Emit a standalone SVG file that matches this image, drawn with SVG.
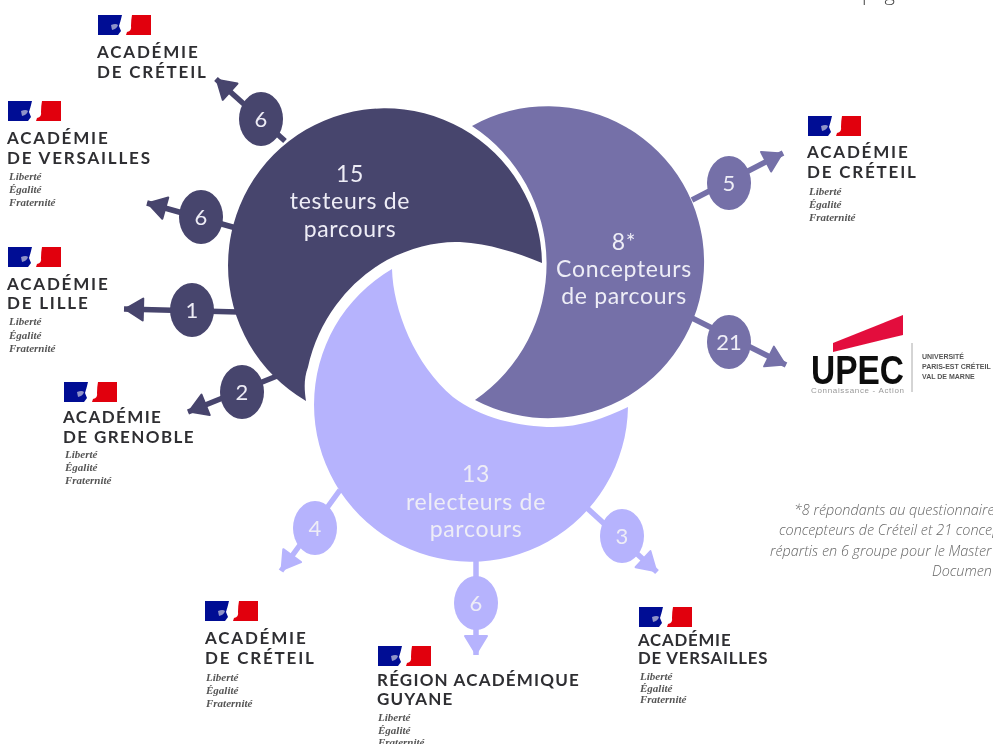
<svg xmlns="http://www.w3.org/2000/svg" xmlns:xlink="http://www.w3.org/1999/xlink" width="993" height="744" viewBox="0 0 993 744">
<style>
.bg{fill:#fff}
.d{fill:#47446d}.p{fill:#7470a8}.l{fill:#b6b3fd}
.ds{stroke:#47446d}.ps{stroke:#7470a8}.ls{stroke:#b6b3fd}
.c line{stroke-width:5.500;fill:none}
text{font-family:"Lato","Noto Sans",sans-serif}
.big{font-size:23px;fill:#eeedf6;text-anchor:middle;letter-spacing:.7px}
.num{font-size:22px;fill:#eeedf6;text-anchor:middle}
.ac{font-size:17px;font-weight:700;fill:#2f2f33;letter-spacing:1.800px}
.ac2{letter-spacing:1.400px}
.ac3{letter-spacing:1.200px}
.ac4{letter-spacing:.800px;font-size:16.800px}
.dev{font-family:"Liberation Serif",serif;font-style:italic;font-weight:700;font-size:11px;fill:#555}
.note{font-family:"Open Sans",sans-serif;font-style:italic;font-weight:300;font-size:14.400px;fill:#666}
.up{font-family:"Liberation Sans",sans-serif}
.up2{font-size:7px;font-weight:700;fill:#555}
</style>
<defs>
<filter id="soft" x="0" y="0" width="100%" height="100%"><feGaussianBlur stdDeviation="0.5"/></filter>
<marker id="ad" markerUnits="userSpaceOnUse" markerWidth="28" markerHeight="28" refX="21" refY="14" orient="auto"><path d="M2 3L20 14L2 25Z" fill="#47446d" stroke="#47446d" stroke-width="2" stroke-linejoin="round"/></marker>
<marker id="ap" markerUnits="userSpaceOnUse" markerWidth="28" markerHeight="28" refX="21" refY="14" orient="auto"><path d="M2 3L20 14L2 25Z" fill="#7470a8" stroke="#7470a8" stroke-width="2" stroke-linejoin="round"/></marker>
<marker id="al" markerUnits="userSpaceOnUse" markerWidth="28" markerHeight="28" refX="21" refY="14" orient="auto"><path d="M2 3L20 14L2 25Z" fill="#b6b3fd" stroke="#b6b3fd" stroke-width="2" stroke-linejoin="round"/></marker>
<g id="flag">
<path d="M0 0H24L22.500 6L21 11L23 16L20 20H0Z" fill="#000e94"/>
<path d="M13 10q5 -2 7 0q-1 4 -6 5z" fill="#8f93c8"/>
<path d="M34 0H53V20H28L29 17Q34 16 33 11Q33 5 34 0Z" fill="#e1000f"/>
</g>
</defs>
<rect class="bg" width="993" height="744"/>
<g filter="url(#soft)">
<text x="862" y="0" style="font-family:'Open Sans',sans-serif;font-size:20px;font-weight:300;fill:#444">page</text>

<g id="connectors" class="c">
<line class="ds" x1="285" y1="141" x2="216" y2="79" marker-end="url(#ad)"/>
<line class="ds" x1="236" y1="228" x2="147" y2="203" marker-end="url(#ad)"/>
<line class="ds" x1="238" y1="312" x2="124" y2="309" marker-end="url(#ad)"/>
<line class="ds" x1="277" y1="376" x2="188" y2="412" marker-end="url(#ad)"/>
<line class="ps" x1="692" y1="200" x2="783" y2="153" marker-end="url(#ap)"/>
<line class="ps" x1="692" y1="318" x2="786" y2="365" marker-end="url(#ap)"/>
<line class="ls" x1="340" y1="490" x2="281" y2="571" marker-end="url(#al)"/>
<line class="ls" x1="587" y1="508" x2="657" y2="572" marker-end="url(#al)"/>
<line class="ls" x1="476" y1="555" x2="476" y2="655" marker-end="url(#al)"/>
</g>

<g id="testeurs">
<path class="d" d="M542 263A157 157 0 1 0 306 401C304 388 304 378 308 367A163 163 0 0 1 387 260C412 247 438 241 460 242C490 244 515 252 542 263Z"/>
<text class="big" x="350" y="182">15</text>
<text class="big" x="350" y="209">testeurs de</text>
<text class="big" x="350" y="237">parcours</text>
</g>
<g id="concepteurs">
<path class="p" d="M472 126A156 156 0 1 1 475 400A165 165 0 0 0 472 126Z"/>
<text class="big" x="624" y="250">8*</text>
<text class="big" x="624" y="277">Concepteurs</text>
<text class="big" x="624" y="304">de parcours</text>
</g>
<g id="relecteurs">
<path class="l" d="M628 407A157 157 0 1 1 392 269C393 310 415 365 453 397C480 418 520 427 553 427C580 427 605 418 628 407Z"/>
<text class="big" x="476" y="482">13</text>
<text class="big" x="476" y="510">relecteurs de</text>
<text class="big" x="476" y="537">parcours</text>
</g>

<g id="n6a"><ellipse class="d" cx="261" cy="119" rx="22" ry="27"/><text class="num" x="261" y="127">6</text></g>
<g id="n6b"><ellipse class="d" cx="201" cy="217" rx="22" ry="27"/><text class="num" x="201" y="225">6</text></g>
<g id="n1"><ellipse class="d" cx="192" cy="310" rx="22" ry="27"/><text class="num" x="192" y="318">1</text></g>
<g id="n2"><ellipse class="d" cx="242" cy="392" rx="22" ry="27"/><text class="num" x="242" y="400">2</text></g>
<g id="n5"><ellipse class="p" cx="729" cy="183" rx="22" ry="27"/><text class="num" x="729" y="191">5</text></g>
<g id="n21"><ellipse class="p" cx="729" cy="342" rx="22" ry="27"/><text class="num" x="729" y="350">21</text></g>
<g id="n4"><ellipse class="l" cx="315" cy="528" rx="22" ry="27"/><text class="num" x="315" y="536">4</text></g>
<g id="n3"><ellipse class="l" cx="622" cy="536" rx="22" ry="27"/><text class="num" x="622" y="544">3</text></g>
<g id="n6c"><ellipse class="l" cx="476" cy="603" rx="22" ry="27"/><text class="num" x="476" y="611">6</text></g>

<g id="logo-creteil-1"><use xlink:href="#flag" href="#flag" x="98" y="15"/><text class="ac" x="97" y="58">ACADÉMIE</text><text class="ac" x="97" y="78">DE CRÉTEIL</text></g>
<g id="logo-versailles-1"><use xlink:href="#flag" href="#flag" x="8" y="101"/><text class="ac" x="7" y="144">ACADÉMIE</text><text class="ac" x="7" y="164">DE VERSAILLES</text><text class="dev" x="9" y="180">Liberté</text><text class="dev" x="9" y="193">Égalité</text><text class="dev" x="9" y="206">Fraternité</text></g>
<g id="logo-lille"><use xlink:href="#flag" href="#flag" x="8" y="247"/><text class="ac" x="7" y="290">ACADÉMIE</text><text class="ac" x="7" y="309">DE LILLE</text><text class="dev" x="9" y="325">Liberté</text><text class="dev" x="9" y="339">Égalité</text><text class="dev" x="9" y="352">Fraternité</text></g>
<g id="logo-grenoble"><use xlink:href="#flag" href="#flag" x="64" y="382"/><text class="ac ac2" x="63" y="423">ACADÉMIE</text><text class="ac ac2" x="63" y="443">DE GRENOBLE</text><text class="dev" x="65" y="458">Liberté</text><text class="dev" x="65" y="471">Égalité</text><text class="dev" x="65" y="484">Fraternité</text></g>
<g id="logo-creteil-2"><use xlink:href="#flag" href="#flag" x="808" y="116"/><text class="ac" x="807" y="158">ACADÉMIE</text><text class="ac" x="807" y="178">DE CRÉTEIL</text><text class="dev" x="809" y="195">Liberté</text><text class="dev" x="809" y="208">Égalité</text><text class="dev" x="809" y="221">Fraternité</text></g>
<g id="logo-creteil-3"><use xlink:href="#flag" href="#flag" x="205" y="601"/><text class="ac" x="205" y="644">ACADÉMIE</text><text class="ac" x="205" y="664">DE CRÉTEIL</text><text class="dev" x="206" y="681">Liberté</text><text class="dev" x="206" y="694">Égalité</text><text class="dev" x="206" y="707">Fraternité</text></g>
<g id="logo-guyane"><use xlink:href="#flag" href="#flag" x="378" y="646"/><text class="ac ac3" x="377" y="686">RÉGION ACADÉMIQUE</text><text class="ac ac3" x="377" y="705">GUYANE</text><text class="dev" x="378" y="721">Liberté</text><text class="dev" x="378" y="734">Égalité</text><text class="dev" x="378" y="746">Fraternité</text></g>
<g id="logo-versailles-2"><use xlink:href="#flag" href="#flag" x="639" y="607"/><text class="ac ac4" x="638" y="646">ACADÉMIE</text><text class="ac ac4" x="638" y="664">DE VERSAILLES</text><text class="dev" x="640" y="680">Liberté</text><text class="dev" x="640" y="692">Égalité</text><text class="dev" x="640" y="703">Fraternité</text></g>

<g id="logo-upec">
<path d="M833 343L903 315V335L833 352Z" fill="#e30f3c"/>
<text class="up" x="811" y="384" textLength="93" lengthAdjust="spacingAndGlyphs" style="font-weight:700;font-size:41px;fill:#111">UPEC</text>
<text class="up" x="811" y="393" textLength="93" style="font-size:8px;fill:#999">Connaissance - Action</text>
<line x1="912" y1="343" x2="912" y2="392" stroke="#aaa" stroke-width="1"/>
<text class="up up2" x="922" y="359">UNIVERSITÉ</text>
<text class="up up2" x="922" y="369">PARIS-EST CRÉTEIL</text>
<text class="up up2" x="922" y="379">VAL DE MARNE</text>
</g>

<g id="note">
<text class="note" x="794" y="515">*8 répondants au questionnaire</text>
<text class="note" x="779" y="535">concepteurs de Créteil et 21 concep</text>
<text class="note" x="770" y="556">répartis en 6 groupe pour le Master</text>
<text class="note" x="932" y="576">Documen</text>
</g>
</g>
</svg>
